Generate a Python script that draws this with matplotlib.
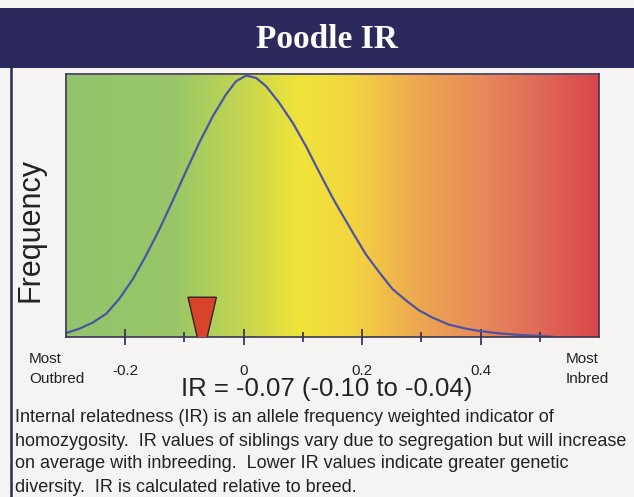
import numpy as np
import matplotlib.pyplot as plt
from matplotlib.colors import LinearSegmentedColormap
from matplotlib.patches import Polygon, Rectangle
from matplotlib.lines import Line2D

# curve (IR value, relative frequency)
ir_x = [-0.300, -0.277, -0.255, -0.232, -0.210, -0.187, -0.165, -0.142, -0.120,
        -0.097, -0.075, -0.052, -0.030, -0.013, 0.004, 0.021, 0.038, 0.060,
        0.083, 0.105, 0.128, 0.150, 0.161, 0.184, 0.206, 0.229, 0.251, 0.274,
        0.296, 0.319, 0.347, 0.375, 0.398, 0.431, 0.465, 0.499, 0.521]
freq = [0.015, 0.032, 0.055, 0.089, 0.146, 0.222, 0.311, 0.413, 0.520,
        0.635, 0.742, 0.844, 0.926, 0.977, 0.999, 0.990, 0.958, 0.895,
        0.818, 0.730, 0.628, 0.533, 0.489, 0.400, 0.317, 0.247, 0.184, 0.140,
        0.102, 0.074, 0.047, 0.032, 0.023, 0.014, 0.008, 0.004, 0.0015]

ir_value = -0.07
ir_low, ir_high = -0.10, -0.04
major_ticks = [-0.2, 0, 0.2, 0.4]
major_labels = ['-0.2', '0', '0.2', '0.4']
minor_ticks = [-0.1, 0.1, 0.3, 0.5]

# background gradient stops
grad_pos = [0.0, 0.2, 0.33, 0.44, 0.54, 0.65, 0.78, 0.89, 1.0]
grad_col = ['#93c46c', '#98c668', '#c4d650', '#f0e438', '#f4d440', '#eeab50',
            '#e88a5a', '#e06a58', '#d9474b']

navy = '#2c2a5c'
plt.rcParams['font.family'] = ['Liberation Sans', 'DejaVu Sans']

fig = plt.figure(figsize=(6.34, 4.97), dpi=100, facecolor='#f5f4f2')

# header bar and left rule
fig.patches.append(Rectangle((0, 1 - 68/497), 1, 60/497, transform=fig.transFigure,
                             facecolor=navy, edgecolor='none', zorder=0))
fig.lines.append(Line2D([10.5/634, 10.5/634], [0, 1 - 68/497], transform=fig.transFigure,
                        color=navy, lw=1.8))
fig.text(0.516, 1 - 39/497, 'Poodle IR', ha='center', va='center', color='white',
         fontsize=24, fontweight='bold', family='Liberation Serif')

ax = fig.add_axes([66/634, 160/497, 533/634, 263/497])
cmap = LinearSegmentedColormap.from_list('ir', list(zip(grad_pos, grad_col)))
ax.imshow(np.linspace(0, 1, 400)[None, :], cmap=cmap, aspect='auto',
          extent=[-0.3, 0.6, 0, 1.0], zorder=0)
ax.plot(ir_x, freq, color='#4b55a3', lw=1.6, zorder=2, solid_joinstyle='round')

# marker triangle, apex cut off by the axis
tri = Polygon([[ir_value - 0.024, 0.152], [ir_value + 0.024, 0.152], [ir_value, -0.082]],
              closed=True, facecolor='#d8432c', edgecolor='#3a2020', lw=1.0, zorder=3)
ax.add_patch(tri)

ax.set_xlim(-0.3, 0.6)
ax.set_ylim(0, 1.005)
ax.set_yticks([])
ax.set_xticks(major_ticks)
ax.set_xticklabels(major_labels)
ax.set_xticks(minor_ticks, minor=True)
ax.tick_params(axis='x', which='major', direction='inout', length=11.5, width=1.2,
               color=navy, pad=14, labelsize=11, labelcolor='#222222')
ax.tick_params(axis='x', which='minor', direction='inout', length=6.5, width=1.2, color=navy)
for s in ax.spines.values():
    s.set_color('#3a3550')
    s.set_linewidth(1.2)

fig.text(31/634, 1 - 230/497, 'Frequency', rotation=90, ha='center', va='center',
         fontsize=22, color='#222222')
fig.text(29/634, 1 - 369/497, 'Most\nOutbred', ha='left', va='center', fontsize=11,
         color='#222222', linespacing=1.5)
fig.text(566/634, 1 - 369/497, 'Most\nInbred', ha='left', va='center', fontsize=11,
         color='#222222', linespacing=1.5)
fig.text(327/634, 1 - 389/497,
         'IR = %.2f (%.2f to %.2f)' % (ir_value, ir_low, ir_high),
         ha='center', va='center', fontsize=18.5, color='#222222')

para = ['Internal relatedness (IR) is an allele frequency weighted indicator of',
        'homozygosity.  IR values of siblings vary due to segregation but will increase',
        'on average with inbreeding.  Lower IR values indicate greater genetic',
        'diversity.  IR is calculated relative to breed.']
for i, line in enumerate(para):
    fig.text(15/634, 1 - (418 + i*23)/497, line, ha='left', va='center',
             fontsize=13, color='#222222')

fig.savefig('out.png', dpi=100, facecolor=fig.get_facecolor())
